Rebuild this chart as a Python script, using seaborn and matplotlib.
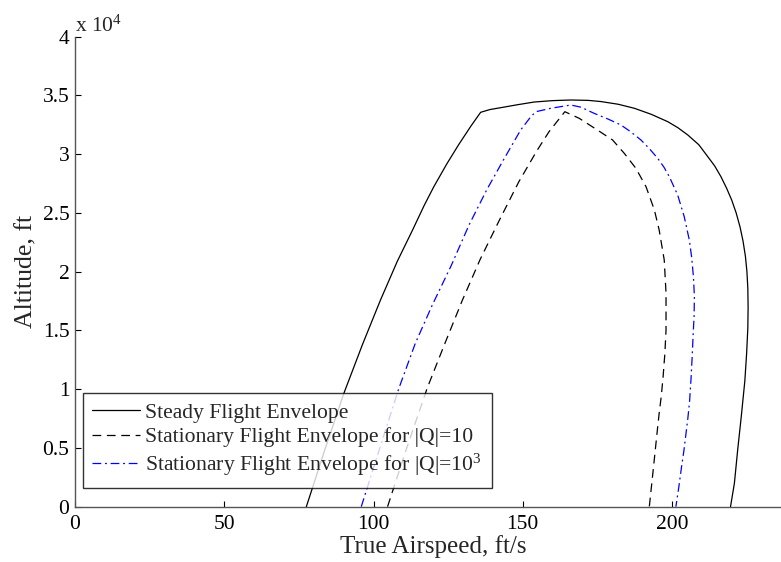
import matplotlib
matplotlib.use("Agg")
import matplotlib.pyplot as plt
import seaborn as sns
import pandas as pd

# Flight envelope boundaries: true airspeed (ft/s) vs altitude (ft)
steady_speed = [77.5, 83.7, 90.0, 96.3, 102.3, 108.0, 113.0, 117.0, 120.2, 124.5, 128.5, 132.6,
                135.9, 139.0, 142.6, 148.0, 153.8, 160.0, 166.1, 172.0, 176.2, 182.0, 187.4,
                193.0, 198.6, 202.0, 205.3, 209.0, 212.0, 214.3, 216.4, 218.3, 220.0, 221.5,
                222.8, 223.8, 224.6, 225.1, 225.4, 225.5, 225.4, 225.0, 224.4, 223.2, 222.0,
                220.9, 219.6]
steady_alt = [0, 4850, 9600, 13800, 17566, 20900, 23500, 25650, 27230, 29150, 30800, 32380,
              33566, 33800, 33958, 34200, 34440, 34560, 34613, 34580, 34480, 34250, 33907,
              33400, 32766, 32250, 31634, 30800, 29787, 29000, 28085, 27100, 26100, 25000,
              23800, 22600, 21300, 20000, 18600, 17000, 15200, 13055, 10700, 7660, 4826,
              1991, 0]

q10_speed = [104.7, 111.0, 118.0, 123.7, 129.8, 135.7, 142.0, 148.7, 154.7, 158.8, 164.1,
             168.9, 175.0, 180.1, 184.0, 187.9, 191.3, 194.1, 195.7, 197.4, 198.0, 198.0,
             197.6, 197.0, 196.4, 195.7, 195.0, 194.4, 193.4, 192.4]
q10_alt = [0, 4900, 10100, 13760, 17591, 21030, 24300, 27660, 30280, 31915, 33617,
           33055, 32060, 31209, 30077, 28800, 27234, 25251, 23549, 20996, 18162, 15038,
           13000, 11000, 9400, 7949, 6300, 4826, 2400, 0]

q1000_speed = [95.9, 102.0, 108.5, 114.0, 119.7, 126.0, 132.0, 138.0, 143.5, 149.3, 152.7,
               154.4, 159.4, 166.1, 169.5, 173.9, 178.5, 182.9, 186.2, 189.6, 192.5, 195.2,
               197.3, 199.1, 201.9, 204.1, 205.8, 206.6, 207.2, 207.5, 207.4, 207.1, 206.8,
               206.4, 205.9, 205.3, 204.7, 204.0, 203.2, 202.3, 201.3]
q1000_alt = [0, 4900, 10077, 13900, 17166, 20500, 23974, 27000, 29500, 32060, 33191,
             33617, 33907, 34187, 34000, 33480, 33000, 32485, 31900, 31209, 30450, 29651,
             28900, 28085, 26528, 24681, 22698, 21200, 19500, 17872, 16170, 14757, 13000,
             11000, 9000, 7500, 6247, 4800, 3404, 1700, 0]

series_labels = ["Steady Flight Envelope",
                 "Stationary Flight Envelope for |Q|=10",
                 r"Stationary Flight Envelope for |Q|=10$^{\mathrm{3}}$"]

x_ticks = [0, 50, 100, 150, 200]
y_ticks = [0, 5000, 10000, 15000, 20000, 25000, 30000, 35000, 40000]
y_tick_labels = ["0", "0.5", "1", "1.5", "2", "2.5", "3", "3.5", "4"]

sns.set_style("white")
plt.rcParams["font.family"] = ["Liberation Serif", "DejaVu Serif"]
plt.rcParams["mathtext.fontset"] = "custom"
plt.rcParams["mathtext.rm"] = "Liberation Serif"
plt.rcParams["mathtext.it"] = "Liberation Serif:italic"

fig = plt.figure(figsize=(7.81, 5.62), dpi=100)
ax = fig.add_axes([75 / 781, (562 - 506.7) / 562, (791.4 - 75) / 781, 470 / 562])

frames = [
    pd.DataFrame({"speed": steady_speed, "alt": steady_alt}),
    pd.DataFrame({"speed": q10_speed, "alt": q10_alt}),
    pd.DataFrame({"speed": q1000_speed, "alt": q1000_alt}),
]
styles = [
    dict(color="black", linestyle="-"),
    dict(color="black", linestyle=(0, (7, 4.5))),
    dict(color="#0000ff", linestyle=(0, (7, 3, 1.5, 3))),
]
for df, st, lab in zip(frames, styles, series_labels):
    sns.lineplot(data=df, x="speed", y="alt", sort=False, estimator=None,
                 linewidth=0.9, label=lab, ax=ax, **st)

ax.set_xlim(0, 240)
ax.set_ylim(0, 40000)
ax.set_xticks(x_ticks)
ax.set_xticklabels([str(v) for v in x_ticks])
ax.set_yticks(y_ticks)
ax.set_yticklabels(y_tick_labels)
ax.tick_params(direction="in", length=4.5, width=0.8, colors="black",
               labelsize=15.5, pad=4, bottom=True, left=True)
ax.tick_params(axis="x", pad=6)

for side in ["top", "right"]:
    ax.spines[side].set_visible(False)
for side in ["left", "bottom"]:
    ax.spines[side].set_color("#555555")
    ax.spines[side].set_linewidth(1.0)

ax.set_xlabel("True Airspeed, ft/s", fontsize=18, labelpad=1)
ax.set_ylabel("Altitude, ft", fontsize=18.5, labelpad=4)

ax.text(0.0, 1.0, r"x 10$^{\mathrm{4}}$", transform=ax.transAxes,
        fontsize=15.5, ha="left", va="bottom")

leg = ax.legend(loc="lower left", bbox_to_anchor=(0.0107, 0.0404), borderaxespad=0,
                fontsize=15.6, frameon=True, fancybox=False, handlelength=2.2,
                handletextpad=0.25, borderpad=0.45, labelspacing=0.2)
leg.get_frame().set_edgecolor("black")
leg.get_frame().set_linewidth(1.0)

fig.savefig("out.png", dpi=100)
